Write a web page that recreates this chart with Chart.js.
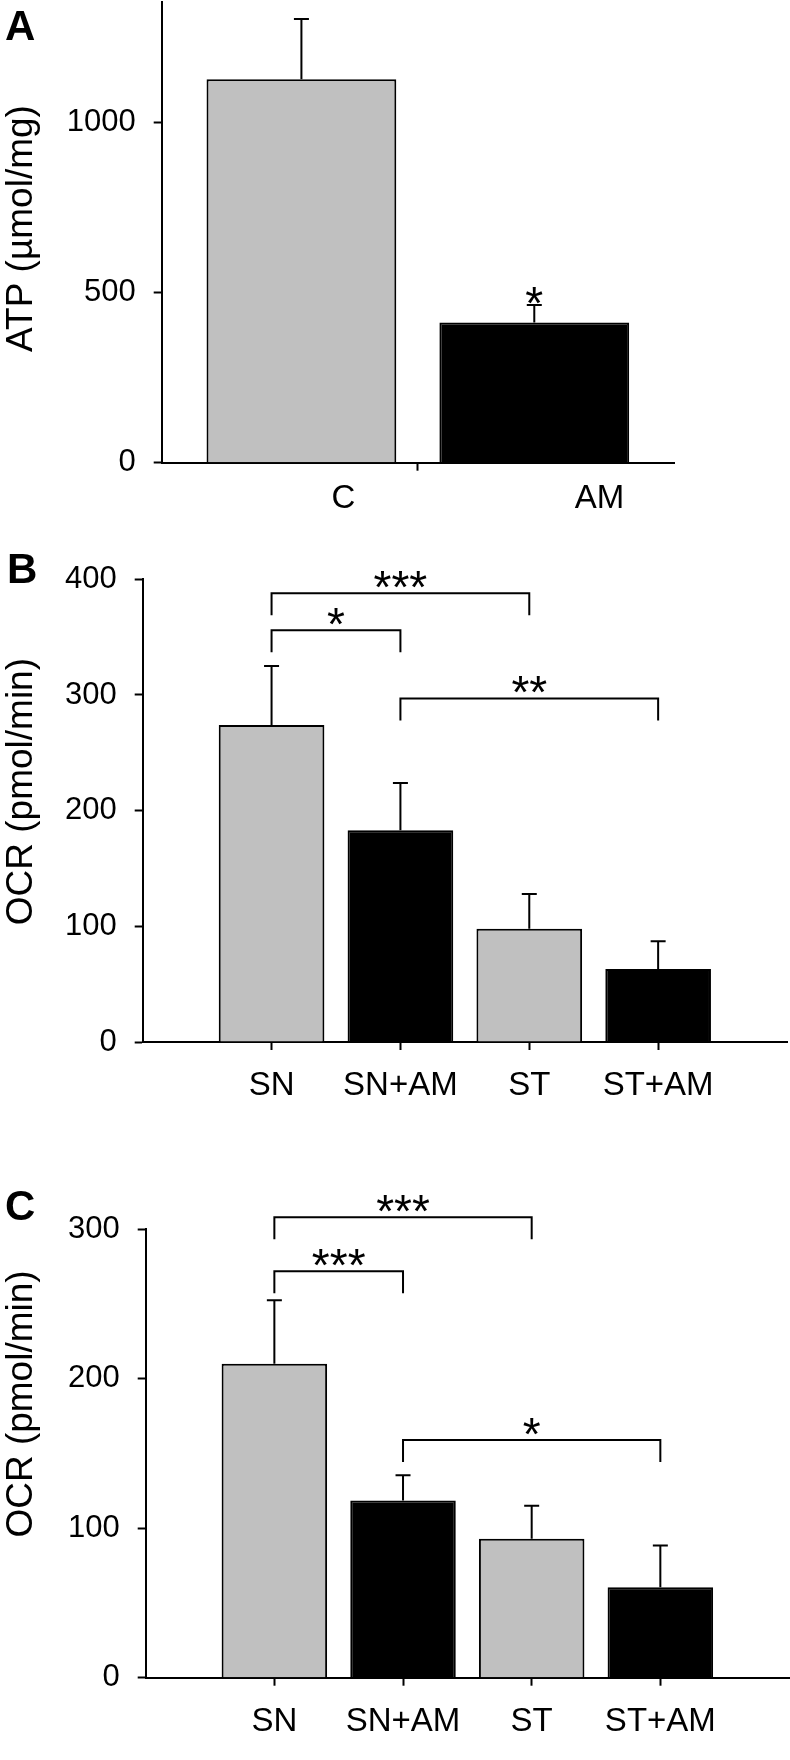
<!DOCTYPE html>
<html>
<head>
<meta charset="utf-8">
<script src="https://cdn.jsdelivr.net/npm/chart.js@4.4.1/dist/chart.umd.min.js"></script>
<style>
  body { margin: 0; background: #fff; }
  #wrap { position: relative; width: 790px; height: 1760px; }
  canvas { position: absolute; left: 0; }
</style>
</head>
<body>
<div id="wrap">
  <canvas id="chartA" width="790" height="530" style="top:0px"></canvas>
  <canvas id="chartB" width="790" height="590" style="top:530px"></canvas>
  <canvas id="chartC" width="790" height="640" style="top:1120px"></canvas>
</div>
<script>
// Panel A: ATP content
const categoriesA = ['C', 'AM'];
const atpMean = [1128, 412];
const atpErr = [177, 52];
const atpStars = ['', '*'];
const atpTicks = [0, 500, 1000];

// Panel B: OCR
const categoriesB = ['SN', 'SN+AM', 'ST', 'ST+AM'];
const ocrMeanB = [274, 183, 98, 63];
const ocrErrB = [51, 41, 30, 24];
const ocrTicksB = [0, 100, 200, 300, 400];
const sigFromB = [0, 0, 1];
const sigToB = [2, 1, 3];
const sigLevelB = [388, 356, 297];
const sigTextB = ['***', '*', '**'];

// Panel C: OCR
const categoriesC = ['SN', 'SN+AM', 'ST', 'ST+AM'];
const ocrMeanC = [210, 118.5, 93, 60.5];
const ocrErrC = [42.5, 17, 22, 28];
const ocrTicksC = [0, 100, 200, 300];
const sigFromC = [0, 0, 1];
const sigToC = [2, 1, 3];
const sigLevelC = [308, 272, 159];
const sigTextC = ['***', '***', '*'];

const FONT = '"Liberation Sans", Arial, sans-serif';
Chart.defaults.font.family = FONT;
Chart.defaults.color = '#000';

// Error bars, stars, brackets, panel letter and y title
const figureMarks = {
    id: 'figureMarks',
    afterDatasetsDraw(chart, args, opts) {
        const ctx = chart.ctx;
        const ys = chart.scales.y;
        const bars = chart.getDatasetMeta(0).data;
        ctx.save();
        ctx.strokeStyle = '#000';
        ctx.fillStyle = '#000';
        ctx.lineWidth = 2;
        ctx.font = '46px ' + FONT;
        ctx.textAlign = 'center';
        ctx.textBaseline = 'alphabetic';

        // upper error bars
        opts.mean.forEach(function (m, i) {
            const bx = bars[i].x;
            const cap = ys.getPixelForValue(m + opts.err[i]);
            ctx.beginPath();
            ctx.moveTo(bx, bars[i].y);
            ctx.lineTo(bx, cap);
            ctx.moveTo(bx - 7.5, cap);
            ctx.lineTo(bx + 7.5, cap);
            ctx.stroke();
            if (opts.stars && opts.stars[i]) {
                ctx.fillText(opts.stars[i], bx, cap + 14);
            }
        });

        // significance brackets
        (opts.from || []).forEach(function (f, k) {
            const x1 = bars[f].x;
            const x2 = bars[opts.to[k]].x;
            const yl = ys.getPixelForValue(opts.level[k]);
            ctx.beginPath();
            ctx.moveTo(x1, yl + 22);
            ctx.lineTo(x1, yl);
            ctx.lineTo(x2, yl);
            ctx.lineTo(x2, yl + 22);
            ctx.stroke();
            ctx.fillText(opts.text[k], (x1 + x2) / 2, yl + 10);
        });
        ctx.restore();
    },
    afterDraw(chart, args, opts) {
        const ctx = chart.ctx;
        ctx.save();
        ctx.fillStyle = '#000';
        ctx.textBaseline = 'alphabetic';
        // panel letter
        ctx.font = 'bold 42px ' + FONT;
        ctx.textAlign = 'left';
        ctx.fillText(opts.letter, opts.letterX, opts.letterY);
        // rotated y title
        ctx.font = '37px ' + FONT;
        ctx.textAlign = 'center';
        ctx.translate(32, opts.titleY);
        ctx.rotate(-Math.PI / 2);
        ctx.fillText(opts.title, 0, 0);
        ctx.restore();
    }
};

function barColors(n) {
    // gray / black alternating
    return Array.from({ length: n }, (_, i) => (i % 2 === 0 ? '#c0c0c0' : '#000000'));
}

function yScale(max, ticks, width) {
    return {
        type: 'linear',
        min: 0,
        max: max,
        afterBuildTicks: (s) => { s.ticks = ticks.map(v => ({ value: v })); },
        afterFit: (s) => { s.width = width; s.paddingTop = 0; },
        border: { color: '#000', width: 2 },
        grid: { drawOnChartArea: false, tickLength: 8, tickWidth: 2, tickColor: '#000' },
        ticks: { padding: 18, font: { size: 31 }, color: '#000', callback: (v) => String(v) }
    };
}

// Panel A
new Chart(document.getElementById('chartA'), {
    type: 'bar',
    data: {
        datasets: [{
            data: atpMean.map((v, i) => ({ x: i, y: v })),
            backgroundColor: barColors(categoriesA.length),
            borderColor: '#000',
            borderWidth: 2,
            barPercentage: 0.815,
            categoryPercentage: 1
        }]
    },
    plugins: [figureMarks],
    options: {
        responsive: false,
        animation: false,
        events: [],
        layout: { padding: { top: 2, bottom: 9.3, left: 0, right: 116 } },
        scales: {
            x: {
                type: 'linear', min: -0.6, max: 1.6, offset: false, weight: 0,
                afterBuildTicks: (s) => { s.ticks = [{ value: 0.5 }]; },
                afterFit: (s) => { s.height = 8; },
                border: { color: '#000', width: 2 },
                grid: { offset: false, drawOnChartArea: false, tickLength: 8, tickWidth: 2, tickColor: '#000' },
                ticks: { display: false }
            },
            // labels sit right of the bar centres in the original
            xl: {
                type: 'linear', position: 'bottom', min: -0.6, max: 1.6, offset: false, weight: 1,
                afterBuildTicks: (s) => { s.ticks = [{ value: 0.18 }, { value: 1.28 }]; },
                afterFit: (s) => { s.height = 50; },
                border: { display: false },
                grid: { display: false, offset: false },
                ticks: {
                    padding: 0, font: { size: 33 }, color: '#000', maxRotation: 0, autoSkip: false,
                    callback: (v) => categoriesA[Math.round(v)]
                }
            },
            y: yScale(1355, atpTicks, 161.7)
        },
        plugins: {
            legend: { display: false },
            tooltip: { enabled: false },
            figureMarks: {
                mean: atpMean, err: atpErr, stars: atpStars,
                letter: 'A', letterX: 5, letterY: 40,
                title: 'ATP (µmol/mg)', titleY: 228.5
            }
        }
    }
});

function ocrChart(id, cats, mean, err, ticks, max, sig, pad, leftW, letter, letterX, letterY, titleY) {
    return new Chart(document.getElementById(id), {
        type: 'bar',
        data: {
            datasets: [{
                data: mean.map((v, i) => ({ x: i + 1, y: v })),
                backgroundColor: barColors(cats.length),
                borderColor: '#000',
                borderWidth: 2,
                barPercentage: 0.82,
                categoryPercentage: 1
            }]
        },
        plugins: [figureMarks],
        options: {
            responsive: false,
            animation: false,
            events: [],
            layout: { padding: pad },
            scales: {
                x: {
                    type: 'linear', min: 0, max: cats.length + 1, offset: false,
                    afterBuildTicks: (s) => { s.ticks = cats.map((c, i) => ({ value: i + 1 })); },
                    afterFit: (s) => { s.height = 64; },
                    border: { color: '#000', width: 2 },
                    grid: { offset: false, drawOnChartArea: false, tickLength: 8, tickWidth: 2, tickColor: '#000' },
                    ticks: {
                        padding: 16, font: { size: 33 }, color: '#000', maxRotation: 0, autoSkip: false,
                        callback: (v) => cats[Math.round(v) - 1]
                    }
                },
                y: yScale(max, ticks, leftW)
            },
            plugins: {
                legend: { display: false },
                tooltip: { enabled: false },
                figureMarks: {
                    mean: mean, err: err,
                    from: sig.from, to: sig.to, level: sig.level, text: sig.text,
                    letter: letter, letterX: letterX, letterY: letterY,
                    title: 'OCR (pmol/min)', titleY: titleY
                }
            }
        }
    });
}

ocrChart('chartB', categoriesB, ocrMeanB, ocrErrB, ocrTicksB, 400,
    { from: sigFromB, to: sigToB, level: sigLevelB, text: sigTextB },
    { top: 49.3, bottom: 14, left: 0, right: 3 }, 142.7, 'B', 7, 53, 261.6);

ocrChart('chartC', categoriesC, ocrMeanC, ocrErrC, ocrTicksC, 300,
    { from: sigFromC, to: sigToC, level: sigLevelC, text: sigTextC },
    { top: 109.3, bottom: 18.3, left: 0, right: 1 }, 145.7, 'C', 5, 100, 284);
</script>
</body>
</html>
